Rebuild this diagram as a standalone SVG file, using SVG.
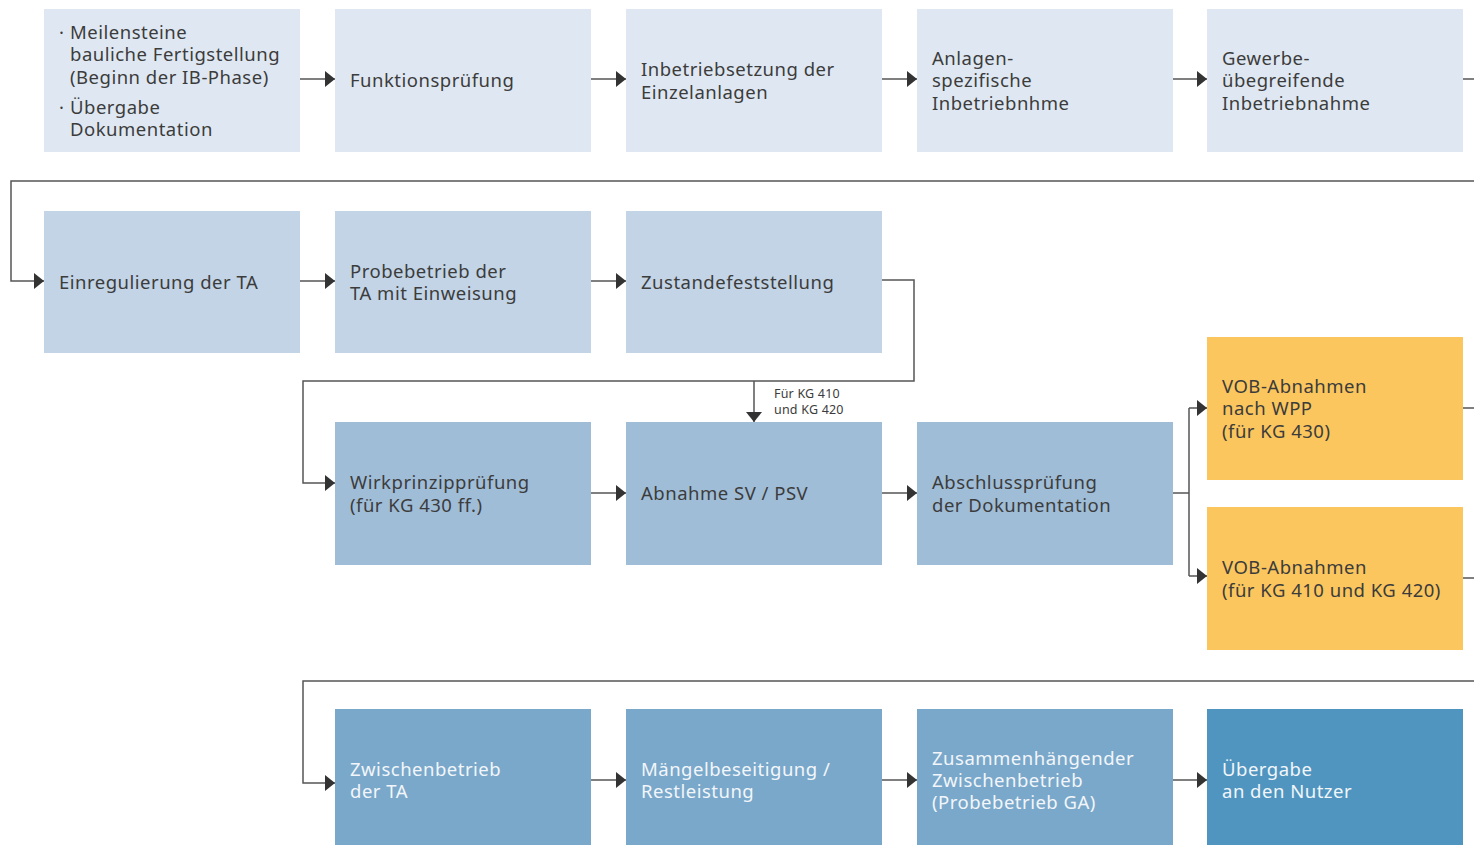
<svg xmlns="http://www.w3.org/2000/svg" width="1474" height="845" viewBox="0 0 1474 845">
<style>
.n1{fill:#dfe8f2}.n2{fill:#c2d4e6}.n3{fill:#a0bdd8}.n4{fill:#7aa8ca}.n5{fill:#4f95bf}.ny{fill:#fbc65e}
text{font-family:"Noto Sans","DejaVu Sans",sans-serif;font-size:18.5px;letter-spacing:0.5px;fill:#3c3c3c}
.w{fill:#f2f6fa}
.lab{font-size:12.5px;letter-spacing:0.2px}
.c{fill:none;stroke:#555;stroke-width:1.5}
</style>
<defs>
<marker id="ah" viewBox="0 0 10 16" refX="10" refY="8" markerWidth="10" markerHeight="16" markerUnits="userSpaceOnUse" orient="auto">
<path d="M0,0 L10,8 L0,16 z" fill="#333"/>
</marker>
</defs>
<rect width="1474" height="845" fill="#fff"/>
<g id="connectors">
<path class="c" d="M300,79 H335" marker-end="url(#ah)"/>
<path class="c" d="M591,79 H626" marker-end="url(#ah)"/>
<path class="c" d="M882,79 H917" marker-end="url(#ah)"/>
<path class="c" d="M1173,79 H1207" marker-end="url(#ah)"/>
<path class="c" d="M1463,79 H1474"/>
<path class="c" d="M1474,181 H11 V281 H44" marker-end="url(#ah)"/>
<path class="c" d="M300,281 H335" marker-end="url(#ah)"/>
<path class="c" d="M591,281 H626" marker-end="url(#ah)"/>
<path class="c" d="M882,280 H914 V381 H303 V483 H335" marker-end="url(#ah)"/>
<path class="c" d="M754,381 V422" marker-end="url(#ah)"/>
<path class="c" d="M591,493 H626" marker-end="url(#ah)"/>
<path class="c" d="M882,493 H917" marker-end="url(#ah)"/>
<path class="c" d="M1173,493 H1189"/>
<path class="c" d="M1189,408 V576"/>
<path class="c" d="M1189,408 H1207" marker-end="url(#ah)"/>
<path class="c" d="M1189,576 H1207" marker-end="url(#ah)"/>
<path class="c" d="M1463,408 H1474"/>
<path class="c" d="M1463,578 H1474"/>
<path class="c" d="M1474,681 H303 V783 H335" marker-end="url(#ah)"/>
<path class="c" d="M591,780 H626" marker-end="url(#ah)"/>
<path class="c" d="M882,780 H917" marker-end="url(#ah)"/>
<path class="c" d="M1173,780 H1207" marker-end="url(#ah)"/>
<text class="lab" x="774" y="398">Für KG 410</text>
<text class="lab" x="774" y="414">und KG 420</text>
</g>
<g id="n-meilensteine"><rect class="n1" x="44" y="9" width="256" height="143"/>
<text x="59" y="39">·<tspan x="70">Meilensteine</tspan></text>
<text x="70" y="61">bauliche Fertigstellung</text>
<text x="70" y="84">(Beginn der IB-Phase)</text>
<text x="59" y="114">·<tspan x="70">Übergabe</tspan></text>
<text x="70" y="136">Dokumentation</text></g>
<g id="n-funktion"><rect class="n1" x="335" y="9" width="256" height="143"/>
<text x="350" y="87">Funktionsprüfung</text></g>
<g id="n-inbetriebsetzung"><rect class="n1" x="626" y="9" width="256" height="143"/>
<text x="641" y="76">Inbetriebsetzung der</text><text x="641" y="99">Einzelanlagen</text></g>
<g id="n-anlagen"><rect class="n1" x="917" y="9" width="256" height="143"/>
<text x="932" y="65">Anlagen-</text><text x="932" y="87">spezifische</text><text x="932" y="110">Inbetriebnhme</text></g>
<g id="n-gewerbe"><rect class="n1" x="1207" y="9" width="256" height="143"/>
<text x="1222" y="65">Gewerbe-</text><text x="1222" y="87">übegreifende</text><text x="1222" y="110">Inbetriebnahme</text></g>
<g id="n-einregulierung"><rect class="n2" x="44" y="211" width="256" height="142"/>
<text x="59" y="289">Einregulierung der TA</text></g>
<g id="n-probebetrieb"><rect class="n2" x="335" y="211" width="256" height="142"/>
<text x="350" y="278">Probebetrieb der</text><text x="350" y="300">TA mit Einweisung</text></g>
<g id="n-zustand"><rect class="n2" x="626" y="211" width="256" height="142"/>
<text x="641" y="289">Zustandefeststellung</text></g>
<g id="n-wirkprinzip"><rect class="n3" x="335" y="422" width="256" height="143"/>
<text x="350" y="489">Wirkprinzipprüfung</text><text x="350" y="512">(für KG 430 ff.)</text></g>
<g id="n-abnahme"><rect class="n3" x="626" y="422" width="256" height="143"/>
<text x="641" y="500">Abnahme SV / PSV</text></g>
<g id="n-abschluss"><rect class="n3" x="917" y="422" width="256" height="143"/>
<text x="932" y="489">Abschlussprüfung</text><text x="932" y="512">der Dokumentation</text></g>
<g id="n-vob-wpp"><rect class="ny" x="1207" y="337" width="256" height="143"/>
<text x="1222" y="393">VOB-Abnahmen</text><text x="1222" y="415">nach WPP</text><text x="1222" y="438">(für KG 430)</text></g>
<g id="n-vob-410"><rect class="ny" x="1207" y="507" width="256" height="143"/>
<text x="1222" y="574">VOB-Abnahmen</text><text x="1222" y="597">(für KG 410 und KG 420)</text></g>
<g id="n-zwischen"><rect class="n4" x="335" y="709" width="256" height="136"/>
<text class="w" x="350" y="776">Zwischenbetrieb</text><text class="w" x="350" y="798">der TA</text></g>
<g id="n-maengel"><rect class="n4" x="626" y="709" width="256" height="136"/>
<text class="w" x="641" y="776">Mängelbeseitigung /</text><text class="w" x="641" y="798">Restleistung</text></g>
<g id="n-zusammen"><rect class="n4" x="917" y="709" width="256" height="136"/>
<text class="w" x="932" y="765">Zusammenhängender</text><text class="w" x="932" y="787">Zwischenbetrieb</text><text class="w" x="932" y="809">(Probebetrieb GA)</text></g>
<g id="n-uebergabe"><rect class="n5" x="1207" y="709" width="256" height="136"/>
<text class="w" x="1222" y="776">Übergabe</text><text class="w" x="1222" y="798">an den Nutzer</text></g>
</svg>
